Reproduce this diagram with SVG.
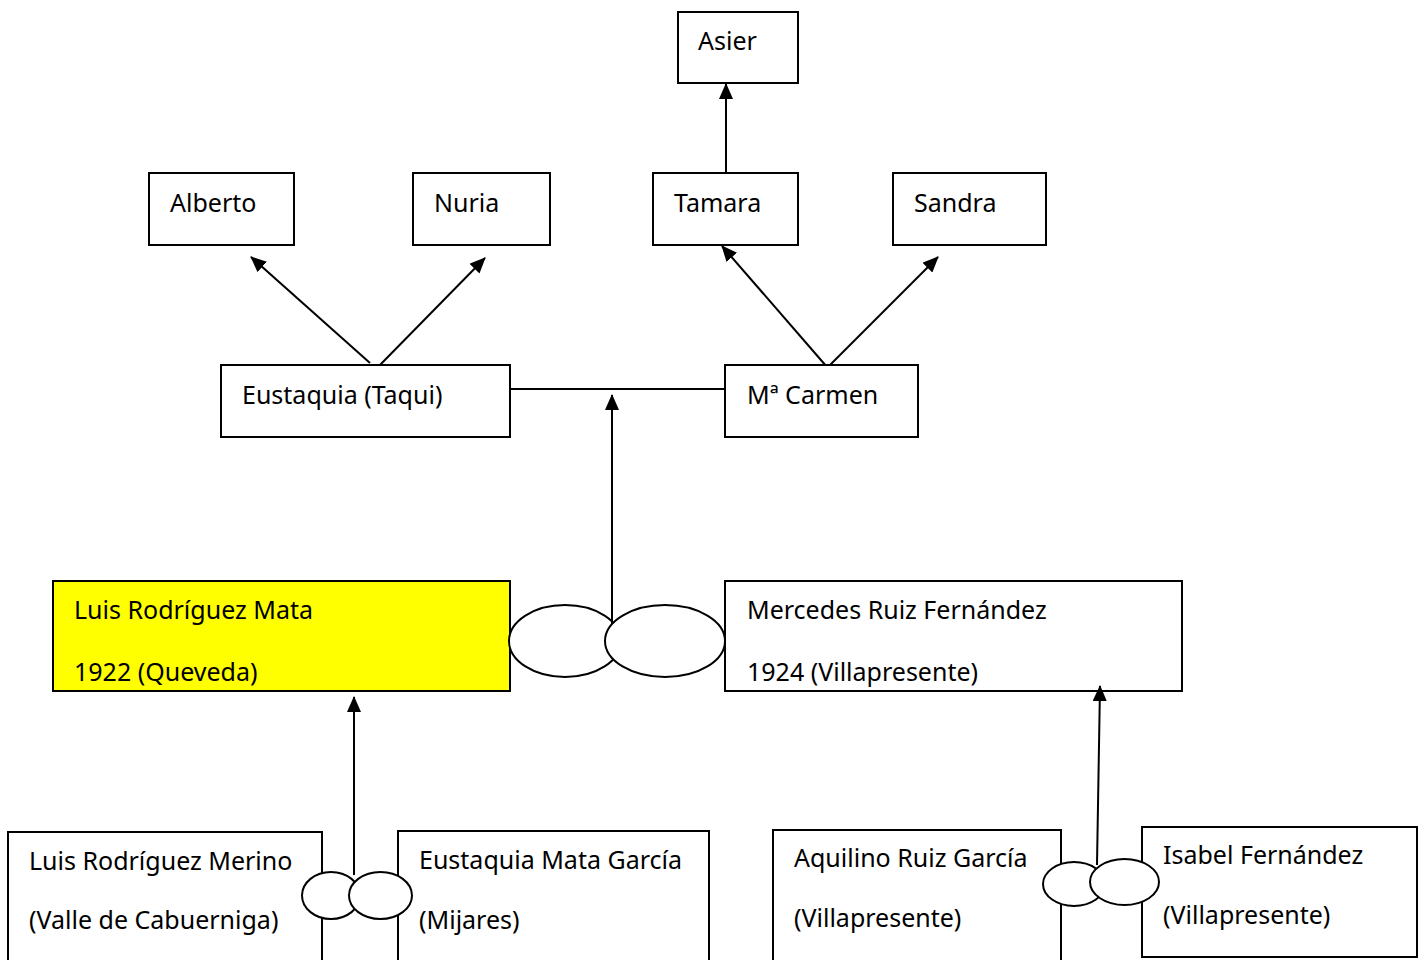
<svg xmlns="http://www.w3.org/2000/svg" width="1421" height="960" viewBox="0 0 1421 960">
<style>
.box{fill:#fff;stroke:#000;stroke-width:2}
.yel{fill:#ffff00;stroke:#000;stroke-width:2}
.ell{fill:#fff;stroke:#000;stroke-width:2}
.ln{stroke:#000;stroke-width:2;fill:none}
.ar{stroke:#000;stroke-width:2;fill:none;marker-end:url(#ah)}
text{font-family:"Noto Sans","Open Sans","DejaVu Sans",sans-serif;font-size:25px;fill:#000}
</style>
<defs>
<marker id="ah" markerUnits="userSpaceOnUse" markerWidth="16" markerHeight="14" refX="15" refY="7" orient="auto">
<path d="M0,0 L16,7 L0,14 Z" fill="#000"/>
</marker>
<clipPath id="c1"><rect x="54" y="582" width="455" height="106"/></clipPath>
<clipPath id="c2"><rect x="726" y="582" width="455" height="106"/></clipPath>
</defs>
<g id="connectors">
<line class="ar" x1="726" y1="179" x2="726" y2="84"/>
<line class="ar" x1="370" y1="363" x2="251" y2="257"/>
<line class="ar" x1="378" y1="367" x2="485" y2="258"/>
<line class="ar" x1="827" y1="367" x2="722" y2="246"/>
<line class="ar" x1="830" y1="365" x2="938" y2="257"/>
<line class="ln" x1="510" y1="389" x2="725" y2="389"/>
</g>
<g id="asier"><rect class="box" x="678" y="12" width="120" height="71"/><text x="698" y="50">Asier</text></g>
<g id="alberto"><rect class="box" x="149" y="173" width="145" height="72"/><text x="170" y="212">Alberto</text></g>
<g id="nuria"><rect class="box" x="413" y="173" width="137" height="72"/><text x="434" y="212">Nuria</text></g>
<g id="tamara"><rect class="box" x="653" y="173" width="145" height="72"/><text x="674" y="212">Tamara</text></g>
<g id="sandra"><rect class="box" x="893" y="173" width="153" height="72"/><text x="914" y="212">Sandra</text></g>
<g id="eustaquia-taqui"><rect class="box" x="221" y="365" width="289" height="72"/><text x="242" y="404">Eustaquia (Taqui)</text></g>
<g id="mcarmen"><rect class="box" x="725" y="365" width="193" height="72"/><text x="747" y="404">Mª Carmen</text></g>
<g id="luis-mata"><rect class="yel" x="53" y="581" width="457" height="110"/><g clip-path="url(#c1)"><text x="74" y="619">Luis Rodríguez Mata</text><text x="74" y="681">1922 (Queveda)</text></g></g>
<g id="mercedes"><rect class="box" x="725" y="581" width="457" height="110"/><g clip-path="url(#c2)"><text x="747" y="619">Mercedes Ruiz Fernández</text><text x="747" y="681">1924 (Villapresente)</text></g></g>
<g id="marriage1">
<ellipse class="ell" cx="565" cy="641" rx="56" ry="36"/>
<line class="ar" x1="612" y1="625" x2="612" y2="395"/>
<ellipse class="ell" cx="665" cy="641" rx="60" ry="36"/>
</g>
<g id="luis-merino"><rect class="box" x="8" y="832" width="314" height="140"/><text x="29" y="870">Luis Rodríguez Merino</text><text x="29" y="929">(Valle de Cabuerniga)</text></g>
<g id="eustaquia-mata"><rect class="box" x="398" y="831" width="311" height="140"/><text x="419" y="869">Eustaquia Mata García</text><text x="419" y="929">(Mijares)</text></g>
<g id="marriage2">
<ellipse class="ell" cx="331" cy="895.5" rx="29" ry="23.5"/>
<line class="ar" x1="354" y1="875" x2="354" y2="697"/>
<ellipse class="ell" cx="380.5" cy="895.5" rx="31.5" ry="23.5"/>
</g>
<g id="aquilino"><rect class="box" x="773" y="830" width="288" height="140"/><text x="794" y="867">Aquilino Ruiz García</text><text x="794" y="927">(Villapresente)</text></g>
<g id="isabel"><rect class="box" x="1142" y="827" width="275" height="130"/><text x="1163" y="864">Isabel Fernández</text><text x="1163" y="924">(Villapresente)</text></g>
<g id="marriage3">
<ellipse class="ell" cx="1074" cy="884" rx="31" ry="22"/>
<line class="ar" x1="1097" y1="865" x2="1100" y2="686"/>
<ellipse class="ell" cx="1124.5" cy="882" rx="34.5" ry="23"/>
</g>
</svg>
